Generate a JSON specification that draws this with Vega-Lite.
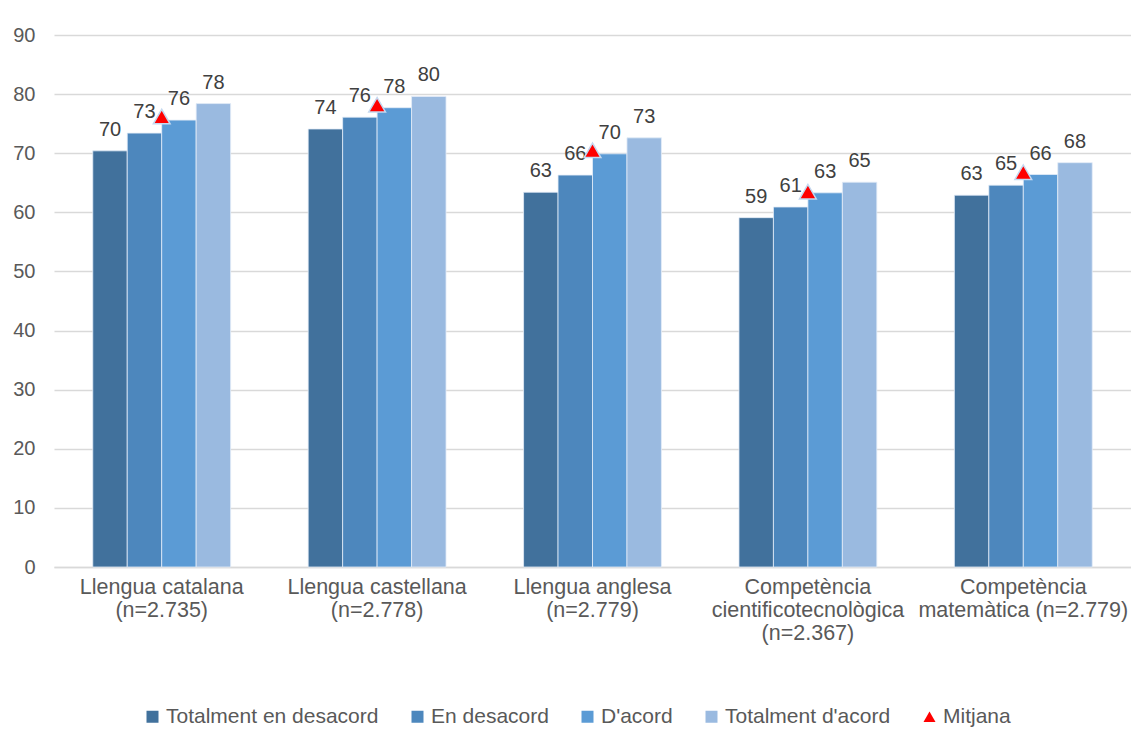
{
  "$schema": "https://vega.github.io/schema/vega-lite/v6.json",
  "width": 1077,
  "height": 532,
  "autosize": {"type": "none"},
  "padding": {"left": 54, "top": 35, "right": 0, "bottom": 186},
  "background": "white",
  "config": {"font": "Liberation Sans", "view": {"stroke": null}},
  "datasets": {
    "bars": [
      {"cat": "Llengua catalana|(n=2.735)", "serie": "Totalment en desacord", "valor": 70.4},
      {"cat": "Llengua catalana|(n=2.735)", "serie": "En desacord", "valor": 73.4},
      {"cat": "Llengua catalana|(n=2.735)", "serie": "D'acord", "valor": 75.6},
      {"cat": "Llengua catalana|(n=2.735)", "serie": "Totalment d'acord", "valor": 78.4},
      {"cat": "Llengua castellana|(n=2.778)", "serie": "Totalment en desacord", "valor": 74.1},
      {"cat": "Llengua castellana|(n=2.778)", "serie": "En desacord", "valor": 76.1},
      {"cat": "Llengua castellana|(n=2.778)", "serie": "D'acord", "valor": 77.7},
      {"cat": "Llengua castellana|(n=2.778)", "serie": "Totalment d'acord", "valor": 79.6},
      {"cat": "Llengua anglesa|(n=2.779)", "serie": "Totalment en desacord", "valor": 63.4},
      {"cat": "Llengua anglesa|(n=2.779)", "serie": "En desacord", "valor": 66.3},
      {"cat": "Llengua anglesa|(n=2.779)", "serie": "D'acord", "valor": 69.9},
      {"cat": "Llengua anglesa|(n=2.779)", "serie": "Totalment d'acord", "valor": 72.6},
      {"cat": "Competència|cientificotecnològica|(n=2.367)", "serie": "Totalment en desacord", "valor": 59.1},
      {"cat": "Competència|cientificotecnològica|(n=2.367)", "serie": "En desacord", "valor": 60.9},
      {"cat": "Competència|cientificotecnològica|(n=2.367)", "serie": "D'acord", "valor": 63.3},
      {"cat": "Competència|cientificotecnològica|(n=2.367)", "serie": "Totalment d'acord", "valor": 65.1},
      {"cat": "Competència|matemàtica (n=2.779)", "serie": "Totalment en desacord", "valor": 62.9},
      {"cat": "Competència|matemàtica (n=2.779)", "serie": "En desacord", "valor": 64.6},
      {"cat": "Competència|matemàtica (n=2.779)", "serie": "D'acord", "valor": 66.4},
      {"cat": "Competència|matemàtica (n=2.779)", "serie": "Totalment d'acord", "valor": 68.4}
    ],
    "means": [
      {"cat": "Llengua catalana|(n=2.735)", "serie": "Mitjana", "valor": 76.2},
      {"cat": "Llengua castellana|(n=2.778)", "serie": "Mitjana", "valor": 78.2},
      {"cat": "Llengua anglesa|(n=2.779)", "serie": "Mitjana", "valor": 70.5},
      {"cat": "Competència|cientificotecnològica|(n=2.367)", "serie": "Mitjana", "valor": 63.5},
      {"cat": "Competència|matemàtica (n=2.779)", "serie": "Mitjana", "valor": 66.8}
    ]
  },
  "layer": [
    {
      "data": {"name": "bars"},
      "mark": {"type": "bar", "stroke": "#E3ECF7", "strokeWidth": 0.8},
      "encoding": {
        "x": {
          "field": "cat", "type": "nominal", "sort": null,
          "scale": {"paddingInner": 0.36, "paddingOuter": 0.18},
          "axis": {
            "title": null, "labelAngle": 0, "labelExpr": "split(datum.label, '|')",
            "labelFontSize": 21.5, "labelColor": "#595959", "labelLineHeight": 23,
            "labelPadding": 9, "ticks": false, "domainColor": "#D9D9D9", "domainWidth": 1.5,
            "labelLimit": 300
          }
        },
        "xOffset": {"field": "serie", "type": "nominal", "sort": ["Totalment en desacord", "En desacord", "D'acord", "Totalment d'acord"]},
        "y": {
          "field": "valor", "type": "quantitative",
          "scale": {"domain": [0, 90]},
          "axis": {
            "title": null, "values": [0, 10, 20, 30, 40, 50, 60, 70, 80, 90],
            "labelFontSize": 20, "labelColor": "#595959", "labelPadding": 19,
            "ticks": false, "domain": false, "gridColor": "#D9D9D9", "gridWidth": 1.5
          }
        },
        "color": {
          "field": "serie", "type": "nominal",
          "scale": {
            "domain": ["Totalment en desacord", "En desacord", "D'acord", "Totalment d'acord", "Mitjana"],
            "range": ["#41719C", "#4D87BD", "#5B9BD5", "#9ABAE0", "#FF0000"]
          },
          "legend": {
            "title": null, "orient": "none", "legendX": 88, "legendY": 671, "direction": "horizontal",
            "labelFontSize": 21, "labelColor": "#595959", "symbolSize": 144, "columnPadding": 28,
            "labelOffset": 3, "symbolStrokeWidth": 0, "labelLimit": 400
          }
        }
      }
    },
    {
      "data": {"name": "bars"},
      "mark": {"type": "text", "dy": -15, "baseline": "alphabetic", "fontSize": 20, "color": "#404040"},
      "encoding": {
        "x": {"field": "cat", "type": "nominal", "sort": null},
        "xOffset": {"field": "serie", "type": "nominal", "sort": ["Totalment en desacord", "En desacord", "D'acord", "Totalment d'acord"]},
        "y": {"field": "valor", "type": "quantitative"},
        "text": {"field": "valor", "type": "quantitative", "format": ".0f"}
      }
    },
    {
      "data": {"name": "means"},
      "mark": {"type": "point", "filled": true, "size": 280, "stroke": "#C5D9F0", "strokeWidth": 1.5, "opacity": 1},
      "encoding": {
        "x": {"field": "cat", "type": "nominal", "sort": null},
        "y": {"field": "valor", "type": "quantitative"},
        "color": {"field": "serie", "type": "nominal"},
        "shape": {
          "field": "serie", "type": "nominal",
          "scale": {
            "domain": ["Totalment en desacord", "En desacord", "D'acord", "Totalment d'acord", "Mitjana"],
            "range": ["square", "square", "square", "square", "triangle-up"]
          },
          "legend": {
            "title": null, "orient": "none", "legendX": 88, "legendY": 671, "direction": "horizontal",
            "labelFontSize": 21, "labelColor": "#595959", "symbolSize": 144, "columnPadding": 28,
            "labelOffset": 3, "symbolStrokeWidth": 0, "labelLimit": 400
          }
        }
      }
    }
  ]
}
